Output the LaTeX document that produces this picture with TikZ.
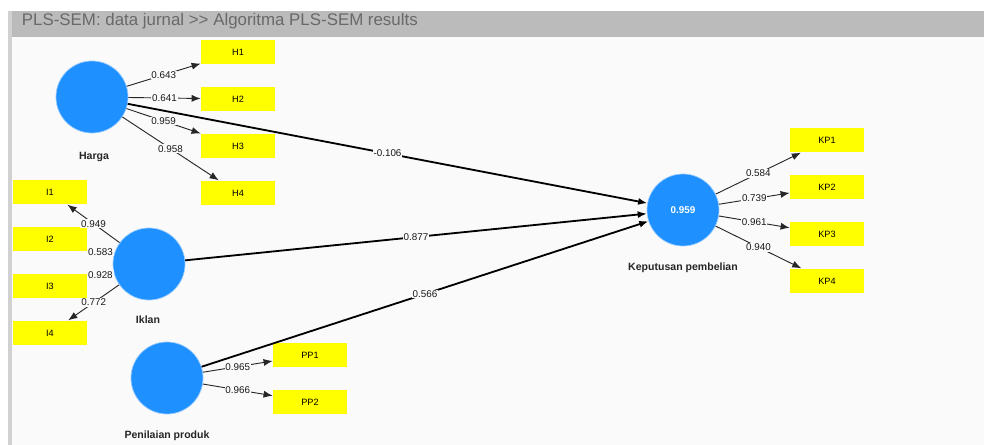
\documentclass[tikz,border=0pt]{standalone}
\usepackage{fontspec}
\setmainfont{Liberation Sans}
\usetikzlibrary{arrows.meta}
\definecolor{plsblue}{RGB}{30,144,255}
\definecolor{plsyellow}{RGB}{255,255,0}
\definecolor{canvas}{RGB}{250,250,250}
\definecolor{barcolor}{RGB}{187,187,187}
\definecolor{bartext}{RGB}{105,105,105}
\begin{document}
\begin{tikzpicture}[x=0.025cm,y=-0.025cm,>={Latex[length=6.5pt,width=5pt]},
  latent/.style={fill=plsblue,draw=plsblue!45,line width=0.5pt,circle,inner sep=0pt,minimum size=1.8cm,text=white,font=\fontsize{7}{8}\selectfont\bfseries},
  indicator/.style={fill=plsyellow,rectangle,inner sep=0pt,minimum width=1.85cm,minimum height=0.62cm,font=\fontsize{6.5}{7}\selectfont},
  caption/.style={font=\fontsize{7.5}{9}\selectfont\bfseries,text=black!85},
  loading/.style={->,draw=black!85,line width=0.65pt},
  effect/.style={->,draw=black,line width=1.3pt},
  weight/.style={fill=canvas,inner sep=0.6pt,font=\fontsize{7}{8}\selectfont,text=black!90}]

\useasboundingbox (0,0) rectangle (984,445);

% canvas and title bar
\fill [white] (0,0) rectangle (984,445);
\fill [canvas] (8,11) rectangle (984,445);
\fill [barcolor] (8,11) rectangle (984,37);
\fill [black!18] (8,11) rectangle (12,445);
\node [anchor=west,text=bartext,font=\fontsize{12}{14}\selectfont] (title) at (17,21) {PLS-SEM: data jurnal {>}{>} Algoritma PLS-SEM results};

% latent variables
\node [latent] at (92,97) (harga) {};
\node [latent] at (149,264) (iklan) {};
\node [latent] at (167,378) (nilai) {};
\node [latent] at (683,210) (kp) {0.959};

\node [caption] at (94,157) (hargatext) {Harga};
\node [caption] at (148,320) (iklantext) {Iklan};
\node [caption] at (167,436) (nilaitext) {Penilaian produk};
\node [caption] at (683,268) (kptext) {Keputusan pembelian};

% indicators
\node [indicator] at (238,52) (h1) {H1};
\node [indicator] at (238,99) (h2) {H2};
\node [indicator] at (238,146) (h3) {H3};
\node [indicator] at (238,193) (h4) {H4};

\node [indicator] at (50,192) (i1) {I1};
\node [indicator] at (50,239) (i2) {I2};
\node [indicator] at (50,286) (i3) {I3};
\node [indicator] at (50,333) (i4) {I4};

\node [indicator] at (310,355) (pp1) {PP1};
\node [indicator] at (310,402) (pp2) {PP2};

\node [indicator] at (827,140) (kp1) {KP1};
\node [indicator] at (827,187) (kp2) {KP2};
\node [indicator] at (827,234) (kp3) {KP3};
\node [indicator] at (827,281) (kp4) {KP4};

% inner model
\draw [effect] (harga) to node [weight] {-0.106} (kp);
\draw [effect] (iklan) to node [weight] {0.877} (kp);
\draw [effect] (nilai) to node [weight] {0.566} (kp);

% outer model
\draw [loading] (harga) to node [weight] {0.643} (h1);
\draw [loading] (harga) to node [weight] {0.641} (h2);
\draw [loading] (harga) to node [weight] {0.959} (h3);
\draw [loading] (harga) to node [weight] {0.958} (h4);

\draw [loading] (iklan) to node [weight] {0.949} (i1);
\draw [loading] (iklan) to node [weight] {0.583} (i2);
\draw [loading] (iklan) to node [weight] {0.928} (i3);
\draw [loading] (iklan) to node [weight] {0.772} (i4);

\draw [loading] (nilai) to node [weight] {0.965} (pp1);
\draw [loading] (nilai) to node [weight] {0.966} (pp2);

\draw [loading] (kp) to node [weight] {0.584} (kp1);
\draw [loading] (kp) to node [weight] {0.739} (kp2);
\draw [loading] (kp) to node [weight] {0.961} (kp3);
\draw [loading] (kp) to node [weight] {0.940} (kp4);

\end{tikzpicture}
\end{document}
